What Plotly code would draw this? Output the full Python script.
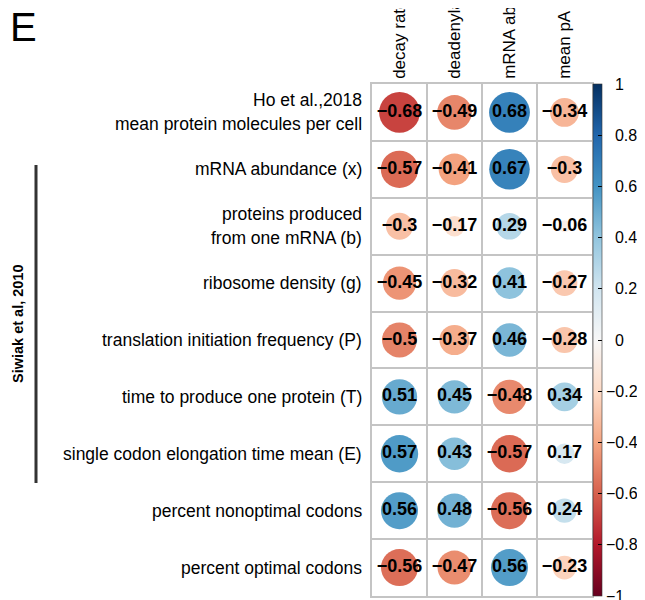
import numpy as np
import plotly.graph_objects as go
import plotly.express as px

col_labels = ["decay rate", "deadenylation rate", "mRNA abundance", "mean pA tail length"]
row_labels = [
    "Ho et al.,2018\nmean protein molecules per cell",
    "mRNA abundance (x)",
    "proteins produced\nfrom one mRNA (b)",
    "ribosome density (g)",
    "translation initiation frequency (P)",
    "time to produce one protein (T)",
    "single codon elongation time mean (E)",
    "percent nonoptimal codons",
    "percent optimal codons",
]
decay_rate = [-0.68, -0.57, -0.3, -0.45, -0.5, 0.51, 0.57, 0.56, -0.56]
deadenylation_rate = [-0.49, -0.41, -0.17, -0.32, -0.37, 0.45, 0.43, 0.48, -0.47]
mrna_abundance = [0.68, 0.67, 0.29, 0.41, 0.46, -0.48, -0.57, -0.56, 0.56]
mean_pa_tail = [-0.34, -0.3, -0.06, -0.27, -0.28, 0.34, 0.17, 0.24, -0.23]
cbar_ticks = [1, 0.8, 0.6, 0.4, 0.2, 0, -0.2, -0.4, -0.6, -0.8, -1]
group_label = "Siwiak et al, 2010"
panel_label = "E"

columns = [decay_rate, deadenylation_rate, mrna_abundance, mean_pa_tail]

OFF = 8  # page body margin
W, H = 645 - OFF, 600 - OFF
L, R, T, B = 372 - OFF, 53, 84 - OFF, 4
plot_w = W - L - R
plot_h = H - T - B
cell = plot_w / len(col_labels)

def px_x(p):
    return (p - OFF - L) / plot_w

def px_y(p):
    return (H - B - (p - OFF)) / plot_h

def fmt(v):
    s = f"{v:g}"
    return s.replace("-", "\u2212") if v < 0 else s

xs, ys, vals, texts, sizes = [], [], [], [], []
for ci, col in enumerate(columns):
    for ri, v in enumerate(col):
        xs.append(ci)
        ys.append(ri)
        vals.append(v)
        texts.append(fmt(v))
        sizes.append(0.9 * cell * np.sqrt(abs(v)))

# colorbar labels: digits aligned, minus sign hanging to the left
cbar_text = [fmt(t) if t < 0 else "\u2007" + fmt(t) for t in cbar_ticks]

rdbu = px.colors.diverging.RdBu
fig = go.Figure()
fig.add_trace(go.Scatter(
    x=xs, y=ys, mode="markers+text",
    text=texts, textposition="middle center",
    textfont=dict(family="Liberation Sans Narrow, Arial Narrow, Liberation Sans, Arial", size=18,
                  color="black", weight="bold"),
    marker=dict(size=sizes, color=vals, colorscale=rdbu, cmin=-1, cmax=1,
                line=dict(width=0), opacity=1,
                colorbar=dict(x=px_x(593), xanchor="left", xpad=0, y=0.5, yanchor="middle",
                              ypad=0, len=1, lenmode="fraction", thickness=9,
                              outlinewidth=0.6, outlinecolor="#333",
                              tickvals=cbar_ticks, ticktext=cbar_text,
                              ticks="inside", ticklen=4, ticklabeloverflow="allow",
                              tickcolor="black", tickwidth=1,
                              tickfont=dict(family="Liberation Sans, Arial", size=16, color="black"))),
    hoverinfo="skip", showlegend=False,
))

grid_color = "#c4c4c4"
fig.update_xaxes(
    range=[-0.5, len(col_labels) - 0.5], side="top",
    tickvals=list(range(len(col_labels))), ticktext=col_labels,
    tickangle=-90, ticks="", showgrid=False, zeroline=False, automargin=False,
    tickfont=dict(family="Liberation Sans, Arial", size=17, color="black"),
    ticklabelstandoff=0,
    showline=True, mirror=True, linecolor=grid_color, linewidth=1.5,
    minor=dict(tickvals=[i + 0.5 for i in range(len(col_labels) - 1)], showgrid=True,
               gridcolor=grid_color, gridwidth=1.5, ticks=""),
)
fig.update_yaxes(
    range=[len(row_labels) - 0.5, -0.5],
    showticklabels=False, ticks="", showgrid=False, zeroline=False, automargin=False,
    showline=True, mirror=True, linecolor=grid_color, linewidth=1.5,
    minor=dict(tickvals=[i + 0.5 for i in range(len(row_labels) - 1)], showgrid=True,
               gridcolor=grid_color, gridwidth=1.5, ticks=""),
)

# row labels
for ri, lab in enumerate(row_labels):
    lines = lab.split("\n")
    n = len(lines)
    for li, line in enumerate(lines):
        fig.add_annotation(
            x=0, xref="paper", y=ri, yref="y", text=line, showarrow=False,
            xanchor="right", yanchor="middle", xshift=-8,
            yshift=((n - 1) / 2 - li) * 24,
            font=dict(family="Liberation Sans, Arial", size=17.5, color="black"),
        )

# group bracket
fig.add_shape(type="line", xref="paper", yref="paper",
              x0=px_x(36), x1=px_x(36), y0=px_y(165), y1=px_y(483),
              line=dict(color="#333", width=3))
fig.add_annotation(x=px_x(18), y=px_y(324), xref="paper", yref="paper",
                   text=f"<b>{group_label}</b>", textangle=-90, showarrow=False,
                   xanchor="center", yanchor="middle",
                   font=dict(family="Liberation Sans, Arial", size=14.5, color="black"))
fig.add_annotation(x=px_x(8), y=px_y(27), xref="paper", yref="paper",
                   text=panel_label, showarrow=False, xanchor="left", yanchor="middle",
                   font=dict(family="Liberation Sans, Arial", size=40, color="black"))

fig.update_layout(
    width=W, height=H, margin=dict(l=L, r=R, t=T, b=B, autoexpand=False),
    plot_bgcolor="white", paper_bgcolor="white", template="none",
)
fig.write_html("out.html")
